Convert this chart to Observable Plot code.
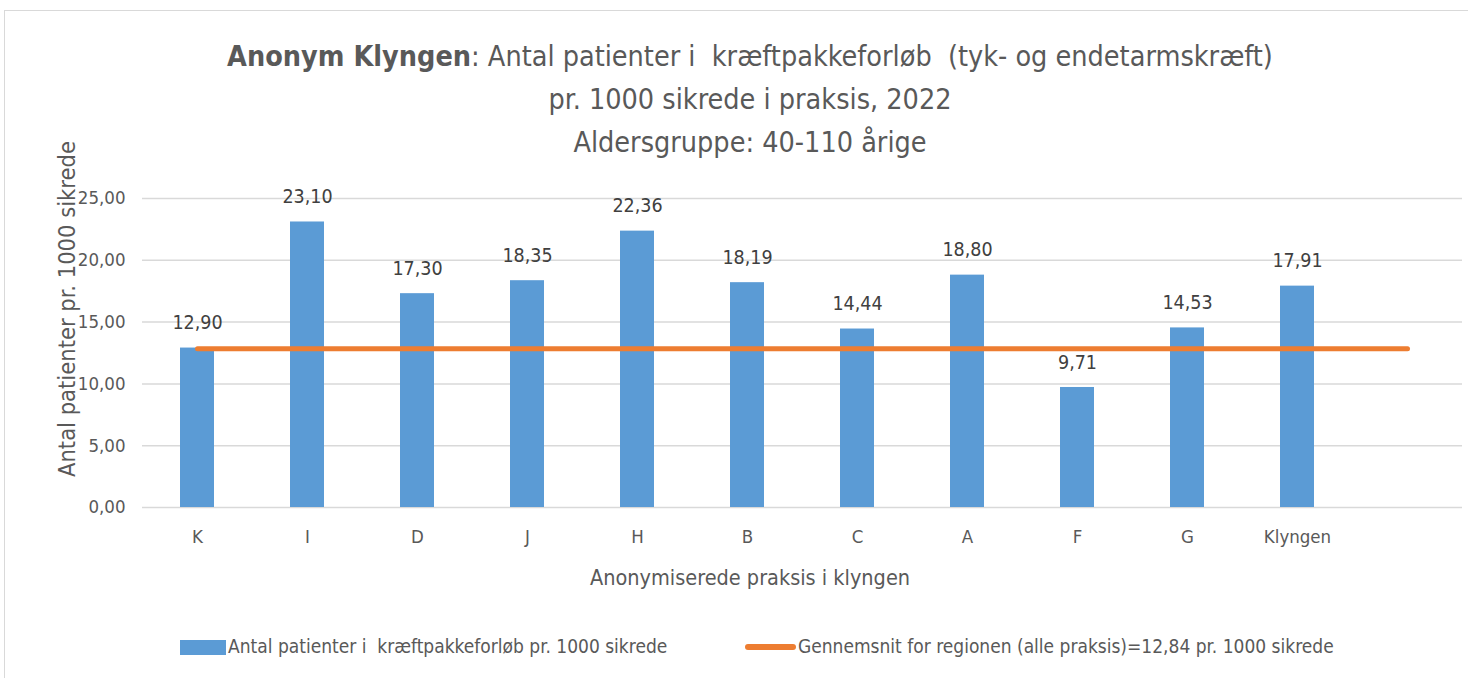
<!DOCTYPE html>
<html>
<head>
<meta charset="utf-8">
<script src="https://cdn.jsdelivr.net/npm/d3@7"></script>
<script src="https://cdn.jsdelivr.net/npm/@observablehq/plot@0.6"></script>
<style>
  html, body { margin: 0; padding: 0; background: #fff; }
  body { width: 1468px; height: 678px; position: relative; overflow: hidden;
         font-family: "DejaVu Sans Condensed", "Liberation Sans Narrow", sans-serif; color: #595959; }
  #frame { position: absolute; left: 4px; top: 10px; width: 1480px; height: 700px; border: 1.5px solid #d9d9d9; box-sizing: border-box; }
  #chart { position: absolute; left: 0; top: 0; }
  .t { position: absolute; white-space: pre; }
  #title { left: 0; width: 1500px; text-align: center; font-size: 28.5px; line-height: 43px; top: 35px; }
  #ytitle { left: 67px; top: 309px; font-size: 23.5px; transform: translate(-50%, -50%) rotate(-90deg); }
  #xtitle { left: 750px; top: 577px; font-size: 21.5px; transform: translate(-50%, -50%); }
  .leg { top: 635px; font-size: 19px; line-height: 22px; }
  .sw { position: absolute; }
</style>
</head>
<body>
<div id="frame"></div>
<div id="chart"></div>
<div class="t" id="title"></div>
<div class="t" id="ytitle"></div>
<div class="t" id="xtitle"></div>
<div class="sw" style="left:180px;top:640px;width:46px;height:15px;background:#5B9BD5"></div>
<div class="t leg" id="leg1" style="left:228px"></div>
<div class="sw" style="left:745px;top:644px;width:51px;height:6px;background:#ED7D31;border-radius:3px"></div>
<div class="t leg" id="leg2" style="left:798px"></div>
<script>
const titleBold = "Anonym Klyngen";
const titleRest = ": Antal patienter i  kræftpakkeforløb  (tyk- og endetarmskræft)";
const titleLine2 = "pr. 1000 sikrede i praksis, 2022";
const titleLine3 = "Aldersgruppe: 40-110 årige";
const yLabel = "Antal patienter pr. 1000 sikrede";
const xLabel = "Anonymiserede praksis i klyngen";
const legendBars = "Antal patienter i  kræftpakkeforløb pr. 1000 sikrede";
const legendLine = "Gennemsnit for regionen (alle praksis)=12,84 pr. 1000 sikrede";

const categories = ["K", "I", "D", "J", "H", "B", "C", "A", "F", "G", "Klyngen"];
const values = [12.90, 23.10, 17.30, 18.35, 22.36, 18.19, 14.44, 18.80, 9.71, 14.53, 17.91];
const regionAvg = 12.84;
const extraSlot = " ";
const yTicks = [0, 5, 10, 15, 20, 25];

const domain = [...categories, extraSlot];
const bars = categories.map((c, i) => ({c, v: values[i]}));
const avgLine = domain.map(c => ({c, v: regionAvg}));
const fmt = d => d.toFixed(2).replace(".", ",");

const esc = s => s.replace(/&/g, "&amp;").replace(/</g, "&lt;");
document.getElementById("title").innerHTML =
  `<b>${esc(titleBold)}</b>${esc(titleRest)}\n${esc(titleLine2)}\n${esc(titleLine3)}`;
document.getElementById("ytitle").textContent = yLabel;
document.getElementById("xtitle").textContent = xLabel;
document.getElementById("leg1").textContent = legendBars;
document.getElementById("leg2").textContent = legendLine;

const chart = Plot.plot({
  width: 1468,
  height: 678,
  marginTop: 198,
  marginBottom: 171,
  marginLeft: 142,
  marginRight: 6,
  style: {fontFamily: '"DejaVu Sans Condensed", "Liberation Sans Narrow", sans-serif', fontSize: "17px", color: "#595959", background: "transparent"},
  x: {domain, paddingInner: 0.69, paddingOuter: 0.345, axis: null},
  y: {domain: [0, 25], axis: null},
  marks: [
    Plot.ruleY(yTicks, {stroke: "#d9d9d9", strokeWidth: 1.5}),
    Plot.barY(bars, {x: "c", y: "v", fill: "#5B9BD5"}),
    Plot.line(avgLine, {x: "c", y: "v", stroke: "#ED7D31", strokeWidth: 5, strokeLinecap: "round"}),
    Plot.text(bars, {x: "c", y: "v", text: d => fmt(d.v), dy: -25, fill: "#404040", fontSize: 19.5}),
    Plot.axisY(yTicks, {tickSize: 0, tickPadding: 17, tickFormat: fmt, fontSize: 18.5, fill: "#595959", label: null}),
    Plot.axisX(categories, {tickSize: 0, tickPadding: 22, fontSize: 18.5, fill: "#595959", label: null})
  ]
});
document.getElementById("chart").appendChild(chart);
</script>
</body>
</html>
